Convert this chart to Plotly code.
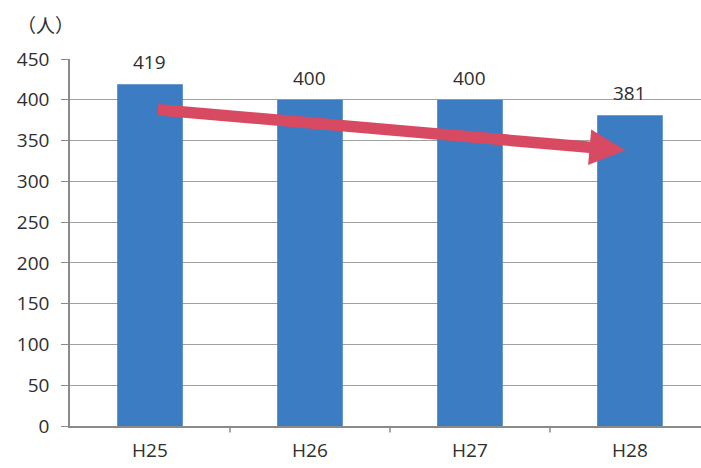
import plotly.graph_objects as go

years = ["H25", "H26", "H27", "H28"]
people = [419, 400, 400, 381]
y_ticks = [0, 50, 100, 150, 200, 250, 300, 350, 400, 450]

FONT = "Open Sans, Lato, sans-serif"
TEXT = "#2e2e2e"
AXIS = "#8a8a8a"

fig = go.Figure()
fig.add_trace(go.Bar(
    x=list(range(len(years))),
    y=people,
    width=0.41,
    marker=dict(color="#3b7cc2", line=dict(width=0)),
    cliponaxis=False,
))

# value labels above each bar
for i, v in enumerate(people):
    fig.add_annotation(
        x=i, y=v, xref="x", yref="y", text=str(v), showarrow=False,
        yshift=22, font=dict(family=FONT, size=19, color=TEXT),
    )

# downward trend arrow across the bars
fig.add_annotation(
    x=2.97, y=338, ax=0.04, ay=388,
    xref="x", yref="y", axref="x", ayref="y",
    showarrow=True, arrowhead=2, arrowsize=0.62, arrowwidth=11.5,
    arrowcolor="#d84a62", text="",
)

# unit label
fig.add_annotation(
    x=-0.0395, y=1.093, xref="paper", yref="paper", text="（人）",
    xanchor="center", yanchor="middle",
    showarrow=False,
    font=dict(family="Noto Sans CJK JP", size=19, color=TEXT),
)

fig.update_layout(
    width=701, height=468,
    margin=dict(l=70, r=0, t=59, b=42),
    paper_bgcolor="white", plot_bgcolor="white",
    showlegend=False,
    xaxis=dict(
        range=[-0.5, 3.444],
        tickmode="array",
        tickvals=list(range(len(years))),
        ticktext=years,
        showgrid=False,
        showline=True, linecolor=AXIS, linewidth=1.5,
        ticks="",
        ticklabelstandoff=6,
        tickfont=dict(family=FONT, size=19, color=TEXT),
        zeroline=False,
    ),
    yaxis=dict(
        range=[0, 450],
        tickmode="array",
        tickvals=y_ticks,
        showgrid=True, gridcolor="#a0a0a0", gridwidth=1.2,
        showline=True, linecolor=AXIS, linewidth=1.5,
        ticks="outside", ticklen=7, tickcolor=AXIS,
        ticklabelstandoff=8,
        tickfont=dict(family=FONT, size=19, color=TEXT),
        zeroline=False,
    ),
)

# category boundary ticks along the baseline
for b in [0.5, 1.5, 2.5]:
    fig.add_shape(type="line", xref="x", yref="paper", x0=b, x1=b,
                  y0=0, y1=-0.018, line=dict(color=AXIS, width=1.5))

fig.write_html("out.html")
